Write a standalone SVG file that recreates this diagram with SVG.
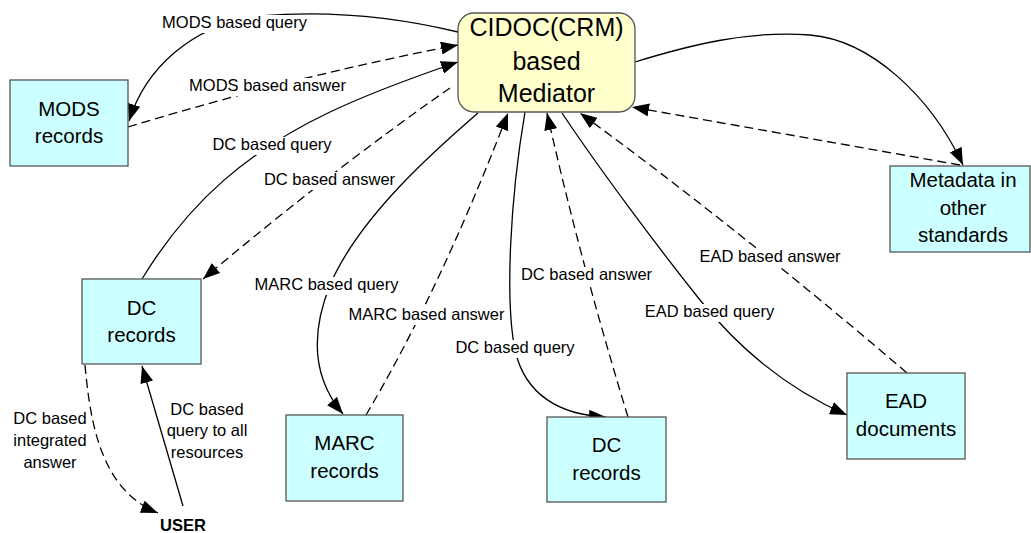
<svg xmlns="http://www.w3.org/2000/svg" width="1031" height="533" viewBox="0 0 1031 533">
<style>
.box{fill:#CCFFFF;stroke:#555;stroke-width:1.3}
.med{fill:#FFFFCC;stroke:#555;stroke-width:1.3}
.nt{font-family:"Liberation Sans",Arial,sans-serif;font-size:20.5px;fill:#000;text-anchor:middle}
.mt{font-family:"Liberation Sans",Arial,sans-serif;font-size:25px;fill:#000;text-anchor:middle}
.lt{font-family:"Liberation Sans",Arial,sans-serif;font-size:16.5px;fill:#000;text-anchor:middle}
.ut{font-family:"Liberation Sans",Arial,sans-serif;font-size:16.5px;font-weight:bold;fill:#000;text-anchor:middle}
.q{fill:none;stroke:#000;stroke-width:1.3;marker-end:url(#ah)}
.a{fill:none;stroke:#000;stroke-width:1.3;stroke-dasharray:9,5;marker-end:url(#ah)}
.bg{fill:#fff}
</style>
<defs>
<marker id="ah" markerUnits="userSpaceOnUse" markerWidth="17" markerHeight="13" refX="17" refY="6.5" orient="auto">
<path d="M0,0 L17,6.5 L0,13 z" fill="#000"/>
</marker>
</defs>
<g id="connectors">
<path class="q" d="M458,32 C400,18 330,10 260,16 C190,25 145,70 129,121"/>
<path class="a" d="M128,127 Q300,75 458,45"/>
<path class="q" d="M142,279 C190,200 250,150 330,112 C370,93 420,75 458,62"/>
<path class="a" d="M450,88 Q335,168 203,279"/>
<path class="q" d="M478,113 C440,146 360,215 330,285 C312,330 310,375 343,414"/>
<path class="a" d="M366,415 Q440,290 508,113"/>
<path class="q" d="M525,112 C510,200 505,300 515,350 C525,395 560,415 606,417"/>
<path class="a" d="M628,417 Q580,260 547,113"/>
<path class="q" d="M562,113 C600,170 660,250 700,300 C740,350 790,390 847,415"/>
<path class="a" d="M907,373 Q740,230 580,113"/>
<path class="q" d="M635,62 C690,45 750,30 810,35 C870,40 930,95 963,165"/>
<path class="a" d="M960,165 L632,107"/>
<path class="a" d="M85,365 C90,420 100,490 158,513"/>
<path class="q" d="M183,506 L142,366"/>
</g>
<g id="labels">
<rect class="bg" x="161" y="15" width="147" height="18"/>
<text class="lt" x="234.5" y="28">MODS based query</text>
<rect class="bg" x="187" y="78" width="161" height="18"/>
<text class="lt" x="267.5" y="91">MODS based answer</text>
<rect class="bg" x="211" y="137" width="122" height="18"/>
<text class="lt" x="272" y="150">DC based query</text>
<rect class="bg" x="262" y="172" width="134" height="18"/>
<text class="lt" x="329.5" y="185">DC based answer</text>
<rect class="bg" x="252" y="277" width="149" height="18"/>
<text class="lt" x="326.5" y="290">MARC based query</text>
<rect class="bg" x="347" y="307" width="159" height="18"/>
<text class="lt" x="426.5" y="320">MARC based answer</text>
<rect class="bg" x="454" y="340" width="122" height="18"/>
<text class="lt" x="515" y="353">DC based query</text>
<rect class="bg" x="519" y="267" width="135" height="18"/>
<text class="lt" x="586.5" y="280">DC based answer</text>
<rect class="bg" x="643" y="304" width="133" height="18"/>
<text class="lt" x="709.5" y="317">EAD based query</text>
<rect class="bg" x="697" y="249" width="146" height="18"/>
<text class="lt" x="770" y="262">EAD based answer</text>
<text class="lt" x="50" y="424">DC based</text>
<text class="lt" x="50" y="446">integrated</text>
<text class="lt" x="50" y="468">answer</text>
<text class="lt" x="207" y="415">DC based</text>
<text class="lt" x="207" y="436">query to all</text>
<text class="lt" x="207" y="458">resources</text>
</g>
<g id="mediator">
<rect class="med" x="458" y="13" width="177" height="99" rx="16" ry="16"/>
<text class="mt" x="546.5" y="36">CIDOC(CRM)</text>
<text class="mt" x="546.5" y="70">based</text>
<text class="mt" x="546.5" y="102">Mediator</text>
</g>
<g id="mods">
<rect class="box" x="10" y="80" width="118" height="86"/>
<text class="nt" x="69" y="116">MODS</text>
<text class="nt" x="69" y="143">records</text>
</g>
<g id="dc-left">
<rect class="box" x="82" y="279" width="119" height="85"/>
<text class="nt" x="141.5" y="315">DC</text>
<text class="nt" x="141.5" y="342">records</text>
</g>
<g id="marc">
<rect class="box" x="286" y="415" width="117" height="86"/>
<text class="nt" x="344.5" y="450">MARC</text>
<text class="nt" x="344.5" y="478">records</text>
</g>
<g id="dc-mid">
<rect class="box" x="547" y="417" width="119" height="85"/>
<text class="nt" x="606.5" y="452">DC</text>
<text class="nt" x="606.5" y="480">records</text>
</g>
<g id="ead">
<rect class="box" x="847" y="373" width="118" height="86"/>
<text class="nt" x="906" y="408">EAD</text>
<text class="nt" x="906" y="436">documents</text>
</g>
<g id="metadata">
<rect class="box" x="890" y="166" width="140" height="86"/>
<text class="nt" x="963" y="187">Metadata in</text>
<text class="nt" x="963" y="215">other</text>
<text class="nt" x="963" y="242">standards</text>
</g>
<g id="user">
<text class="ut" x="183" y="531">USER</text>
</g>
</svg>
